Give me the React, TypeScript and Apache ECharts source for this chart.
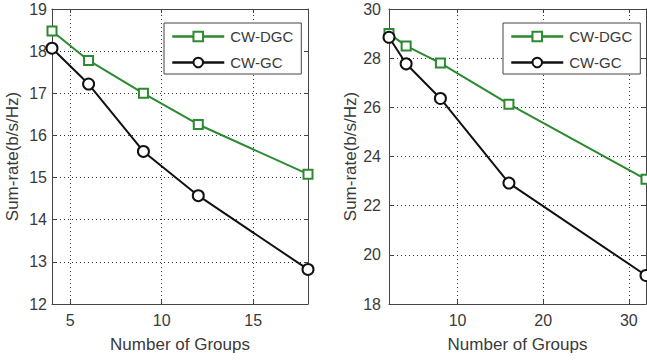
import React, { useEffect, useRef } from "react";
import * as echarts from "echarts";

const xLeft = [4, 6, 9, 12, 18];
const dgcLeft = [18.48, 17.78, 17.0, 16.26, 15.08];
const gcLeft = [18.07, 17.22, 15.62, 14.57, 12.82];
const xTicksLeft = [5, 10, 15];

const xRight = [2, 4, 8, 16, 32];
const dgcRight = [29.0, 28.5, 27.8, 26.13, 23.07];
const gcRight = [28.85, 27.77, 26.36, 22.92, 19.16];
const xTicksRight = [10, 20, 30];

const names = ["CW-DGC", "CW-GC"];
const xTitle = "Number of Groups";
const yTitle = "Sum-rate(b/s/Hz)";

const GREEN = "#2b8a2f";
const BLACK = "#111111";
const AXIS = "#444444";
const TEXT = "#3a3a3a";
const FONT = "Liberation Sans";

export default function App() {
  const ref = useRef<HTMLDivElement>(null);
  useEffect(() => {
    if (!ref.current) return;
    const chart = echarts.init(ref.current, undefined, { renderer: "svg" });

    const grids = [
      { left: 52, top: 9, width: 256, height: 295 },
      { left: 389, top: 9, width: 257, height: 295 },
    ];
    const xr = [
      { min: 4, max: 18, ticks: xTicksLeft },
      { min: 2, max: 32, ticks: xTicksRight },
    ];
    const yr = [
      { min: 12, max: 19, interval: 1, margin: 5 },
      { min: 18, max: 30, interval: 2, margin: 8 },
    ];

    const xAxis: any[] = [];
    const yAxis: any[] = [];
    [0, 1].forEach((g) => {
      xAxis.push({
        type: "value",
        gridIndex: g,
        min: xr[g].min,
        max: xr[g].max,
        position: "bottom",
        name: xTitle,
        nameLocation: "middle",
        nameGap: 32,
        nameTextStyle: { fontFamily: FONT, fontSize: 17, color: TEXT },
        axisLine: { show: true, lineStyle: { color: AXIS, width: 1 } },
        axisTick: { show: true, inside: true, length: 4, customValues: xr[g].ticks, lineStyle: { color: AXIS } },
        axisLabel: { show: true, customValues: xr[g].ticks, margin: 8, fontFamily: FONT, fontSize: 16, color: TEXT },
        splitLine: { show: false },
      });
      xAxis.push({
        type: "value",
        gridIndex: g,
        min: xr[g].min,
        max: xr[g].max,
        position: "top",
        axisLine: { show: true, onZero: false, lineStyle: { color: AXIS, width: 1 } },
        axisTick: { show: true, inside: true, length: 4, customValues: xr[g].ticks, lineStyle: { color: AXIS } },
        axisLabel: { show: false },
        splitLine: { show: false },
      });
      yAxis.push({
        type: "value",
        gridIndex: g,
        min: yr[g].min,
        max: yr[g].max,
        interval: yr[g].interval,
        position: "left",
        name: yTitle,
        nameLocation: "middle",
        nameGap: g === 0 ? 31 : 29,
        nameTextStyle: { fontFamily: FONT, fontSize: 17, color: TEXT },
        axisLine: { show: true, onZero: false, lineStyle: { color: AXIS, width: 1 } },
        axisTick: { show: true, inside: true, length: 4, lineStyle: { color: AXIS } },
        axisLabel: { show: true, margin: yr[g].margin, fontFamily: FONT, fontSize: 16, color: TEXT },
        splitLine: { show: true, lineStyle: { type: [1, 3], color: "#333", width: 1 } },
      });
      yAxis.push({
        type: "value",
        gridIndex: g,
        min: yr[g].min,
        max: yr[g].max,
        interval: yr[g].interval,
        position: "right",
        axisLine: { show: true, onZero: false, lineStyle: { color: AXIS, width: 1 } },
        axisTick: { show: true, inside: true, length: 4, lineStyle: { color: AXIS } },
        axisLabel: { show: false },
        splitLine: { show: false },
      });
    });

    const mkGrid = (ticks: number[]) => ({
      silent: true,
      symbol: "none",
      z: 1,
      label: { show: false },
      emphasis: { disabled: true },
      lineStyle: { type: [1, 3], color: "#333", width: 1 },
      data: ticks.map((v) => ({ xAxis: v })),
    });

    const mkSeries = (
      name: string,
      xs: number[],
      ys: number[],
      g: number,
      color: string,
      symbol: string,
      size: number,
      grid: number[] | null
    ) => ({
      type: "line",
      name,
      xAxisIndex: g * 2,
      yAxisIndex: g * 2,
      data: xs.map((x, i) => [x, ys[i]]),
      symbol,
      symbolSize: size,
      showAllSymbol: true,
      clip: false,
      lineStyle: { color, width: 2 },
      itemStyle: { color: "#ffffff", borderColor: color, borderWidth: 2 },
      z: 3,
      ...(grid ? { markLine: mkGrid(grid) } : {}),
    });

    const series = [
      mkSeries(names[0], xLeft, dgcLeft, 0, GREEN, "rect", 9, xTicksLeft),
      mkSeries(names[1], xLeft, gcLeft, 0, BLACK, "circle", 11, null),
      mkSeries(names[0], xRight, dgcRight, 1, GREEN, "rect", 9, xTicksRight),
      mkSeries(names[1], xRight, gcRight, 1, BLACK, "circle", 11, null),
    ];

    const mkLegend = (left: number) => ({
      left,
      top: 23,
      orient: "vertical",
      data: names,
      itemWidth: 52,
      itemHeight: 12,
      itemGap: 11,
      padding: [6, 8, 4, 7],
      backgroundColor: "#ffffff",
      borderColor: AXIS,
      borderWidth: 1,
      borderRadius: 0,
      selectedMode: false,
      lineStyle: { width: 2.5 },
      itemStyle: { borderWidth: 2 },
      textStyle: { fontFamily: FONT, fontSize: 15, color: TEXT, padding: [0, 0, 0, 1] },
    });

    chart.setOption({
      animation: false,
      backgroundColor: "#ffffff",
      grid: grids,
      xAxis,
      yAxis,
      legend: [mkLegend(164), mkLegend(503)],
      series,
    });
    return () => chart.dispose();
  }, []);
  return <div ref={ref} style={{ width: 647, height: 360, position: "absolute", left: 0, top: 0 }} />;
}
